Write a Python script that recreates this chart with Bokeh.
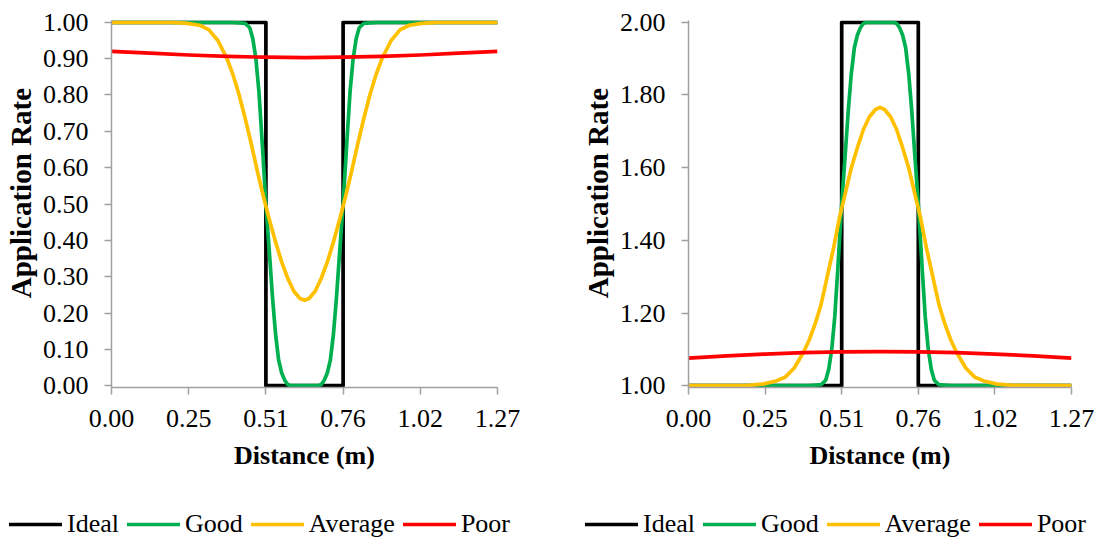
from bokeh.plotting import figure
from bokeh.layouts import row, column
from bokeh.models import Range1d, FixedTicker, Legend, LegendItem
from bokeh.embed import file_html
from bokeh.resources import INLINE

# ---------------- data ----------------
x_ticks = [0.0, 0.254, 0.508, 0.762, 1.016, 1.27]
x_tick_labels = ["0.00", "0.25", "0.51", "0.76", "1.02", "1.27"]
y_ticks_left = [0.0, 0.1, 0.2, 0.3, 0.4, 0.5, 0.6, 0.7, 0.8, 0.9, 1.0]
y_ticks_right = [1.0, 1.2, 1.4, 1.6, 1.8, 2.0]

series_names = ["Ideal", "Good", "Average", "Poor"]
series_colors = ["#000000", "#00B050", "#FFC000", "#FF0000"]

x_ideal = [0.0, 0.508, 0.508, 0.762, 0.762, 1.27]
ideal_left = [1.0, 1.0, 0.0, 0.0, 1.0, 1.0]
ideal_right = [1.0, 1.0, 2.0, 2.0, 1.0, 1.0]

x_good = [0.0, 0.40, 0.44, 0.455, 0.465, 0.475, 0.485, 0.495, 0.508, 0.52, 0.53, 0.54,
          0.55, 0.56, 0.57, 0.58, 0.59, 0.635, 0.68, 0.69, 0.70, 0.71, 0.72, 0.73, 0.74,
          0.75, 0.762, 0.775, 0.785, 0.795, 0.805, 0.815, 0.83, 0.87, 1.27]
good_left = [1.0, 1.0, 0.997, 0.985, 0.955, 0.90, 0.81, 0.68, 0.50, 0.36, 0.24, 0.14,
             0.07, 0.035, 0.015, 0.003, 0.0, 0.0, 0.0, 0.003, 0.015, 0.035, 0.07, 0.14,
             0.24, 0.36, 0.50, 0.68, 0.81, 0.90, 0.955, 0.985, 0.997, 1.0, 1.0]
good_right = [1.0, 1.0, 1.003, 1.015, 1.045, 1.10, 1.19, 1.32, 1.50, 1.64, 1.76, 1.86,
              1.93, 1.965, 1.985, 1.997, 2.0, 2.0, 2.0, 1.997, 1.985, 1.965, 1.93, 1.86,
              1.76, 1.64, 1.50, 1.32, 1.19, 1.10, 1.045, 1.015, 1.003, 1.0, 1.0]

x_avg = [0.0, 0.20, 0.25, 0.29, 0.32, 0.35, 0.38, 0.40, 0.42, 0.44, 0.46, 0.48, 0.50,
         0.52, 0.54, 0.56, 0.58, 0.60, 0.62, 0.635, 0.65, 0.67, 0.69, 0.71, 0.73, 0.75,
         0.77, 0.79, 0.81, 0.83, 0.85, 0.87, 0.89, 0.92, 0.95, 0.98, 1.02, 1.07, 1.27]
avg_left = [1.0, 1.0, 0.997, 0.992, 0.98, 0.95, 0.90, 0.855, 0.80, 0.735, 0.665, 0.59,
            0.52, 0.455, 0.395, 0.34, 0.295, 0.26, 0.24, 0.235, 0.24, 0.26, 0.295, 0.34,
            0.395, 0.455, 0.52, 0.59, 0.665, 0.735, 0.80, 0.855, 0.90, 0.95, 0.98, 0.992,
            0.997, 1.0, 1.0]
avg_right = [1.0, 1.001, 1.005, 1.013, 1.023, 1.048, 1.09, 1.125, 1.17, 1.225, 1.30,
             1.375, 1.46, 1.53, 1.60, 1.655, 1.705, 1.74, 1.76, 1.766, 1.76, 1.74, 1.705,
             1.655, 1.60, 1.53, 1.46, 1.375, 1.30, 1.225, 1.17, 1.125, 1.09, 1.048, 1.023,
             1.013, 1.005, 1.001, 1.0]

x_poor = [0.0, 0.127, 0.254, 0.381, 0.508, 0.635, 0.762, 0.889, 1.016, 1.143, 1.27]
poor_left = [0.920, 0.915, 0.910, 0.906, 0.904, 0.903, 0.904, 0.906, 0.910, 0.915, 0.920]
poor_right = [1.076, 1.082, 1.087, 1.091, 1.093, 1.094, 1.093, 1.091, 1.087, 1.082, 1.076]

FONT = "Liberation Serif"
AXIS_GRAY = "#A0A0A0"
PAD = 0.005  # small range pad so lines on the frame edge are not half clipped
LINE_W = 3.7


def make_chart(width, height, border_left, border_right, border_top, border_bottom,
               y_start, y_end, y_ticks, series):
    p = figure(width=width, height=height, output_backend="svg", toolbar_location=None,
               x_range=Range1d(0.0, 1.27), y_range=Range1d(y_start - PAD, y_end + PAD),
               min_border_left=border_left, min_border_right=border_right,
               min_border_top=border_top, min_border_bottom=border_bottom)
    p.outline_line_color = None
    p.xgrid.visible = False
    p.ygrid.visible = False
    p.background_fill_color = "white"
    p.border_fill_color = "white"

    p.xaxis.ticker = FixedTicker(ticks=x_ticks)
    p.xaxis.major_label_overrides = {t: l for t, l in zip(x_ticks, x_tick_labels)}
    p.yaxis.ticker = FixedTicker(ticks=y_ticks)
    p.yaxis.major_label_overrides = {t: f"{t:.2f}" for t in y_ticks}

    for ax in (p.xaxis[0], p.yaxis[0]):
        ax.axis_line_color = AXIS_GRAY
        ax.axis_line_width = 1.5
        ax.major_tick_line_color = AXIS_GRAY
        ax.major_tick_line_width = 1.5
        ax.major_tick_out = 7
        ax.major_tick_in = 0
        ax.minor_tick_line_color = None
        ax.major_label_text_font = FONT
        ax.major_label_text_font_size = "26px"
        ax.major_label_text_color = "black"
        ax.axis_label_text_font = FONT
        ax.axis_label_text_font_style = "bold"
        ax.axis_label_text_color = "black"

    p.xaxis.axis_label = "Distance (m)"
    p.yaxis.axis_label = "\u00a0\u00a0\u00a0Application Rate"
    p.xaxis.axis_label_text_font_size = "26px"
    p.yaxis.axis_label_text_font_size = "29px"
    p.xaxis.major_label_standoff = 15
    p.xaxis.axis_label_standoff = 11
    p.yaxis.major_label_standoff = 16
    p.yaxis.axis_label_standoff = 3

    for (xs, ys), color in zip(series, series_colors):
        p.line(xs, ys, line_color=color, line_width=LINE_W, line_join="round")
    return p


def make_legend(width, height, x0):
    p = figure(width=width, height=height, output_backend="svg", toolbar_location=None,
               x_range=Range1d(0, 1), y_range=Range1d(0, 1),
               min_border=0, x_axis_type=None, y_axis_type=None)
    p.outline_line_color = None
    p.xgrid.visible = False
    p.ygrid.visible = False
    items = []
    for name, color in zip(series_names, series_colors):
        # off-screen stand-in so the legend can draw each series' line swatch
        r = p.line([-5.0, -4.0], [-5.0, -5.0], line_color=color, line_width=LINE_W,
                   line_cap="round")
        items.append(LegendItem(label=name, renderers=[r]))
    legend = Legend(items=items, orientation="horizontal", location=(x0, 0),
                    glyph_width=53, glyph_height=20, label_standoff=5, spacing=8,
                    padding=0, margin=0, border_line_color=None,
                    background_fill_alpha=0,
                    label_text_font=FONT, label_text_font_size="26px",
                    label_text_color="black")
    p.add_layout(legend)
    return p


left = make_chart(560, 489, 111, 63, 16, 102, 0.0, 1.0, y_ticks_left,
                  [(x_ideal, ideal_left), (x_good, good_left),
                   (x_avg, avg_left), (x_poor, poor_left)])
right = make_chart(541, 489, 128, 30, 20, 102, 1.0, 2.0, y_ticks_right,
                   [(x_ideal, ideal_right), (x_good, good_right),
                    (x_avg, avg_right), (x_poor, poor_right)])
leg_left = make_legend(560, 50, 9)
leg_right = make_legend(541, 50, 25)

layout = column(row(left, right, spacing=0), row(leg_left, leg_right, spacing=0), spacing=0)
open("out.html", "w").write(file_html(layout, INLINE))
